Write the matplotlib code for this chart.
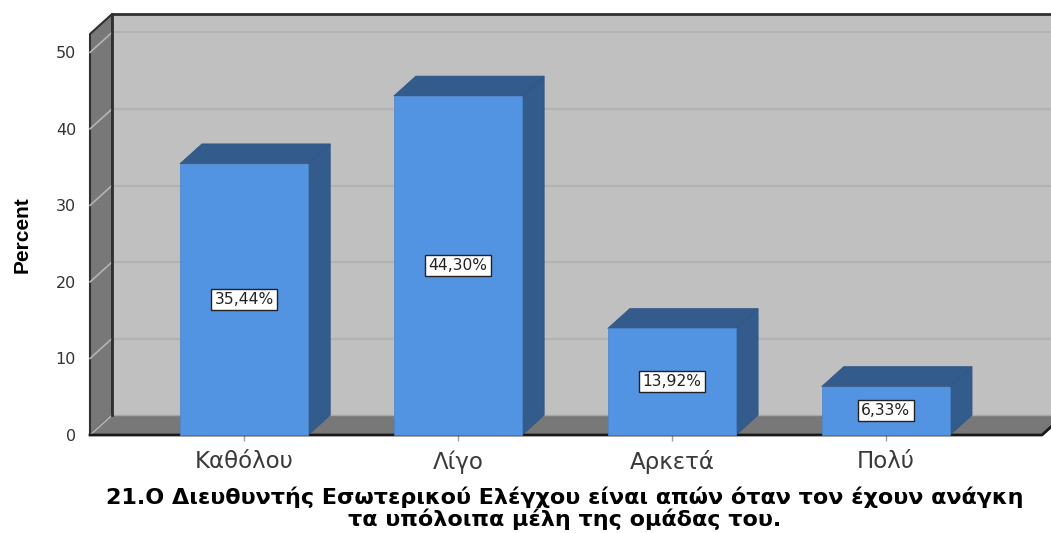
import matplotlib.pyplot as plt
from matplotlib.patches import Polygon

categories = ["Καθόλου", "Λίγο", "Αρκετά", "Πολύ"]
percents = [35.44, 44.30, 13.92, 6.33]
yticks = [0, 10, 20, 30, 40, 50]
title_lines = ["21.Ο Διευθυντής Εσωτερικού Ελέγχου είναι απών όταν τον έχουν ανάγκη",
               "τα υπόλοιπα μέλη της ομάδας του."]

# pseudo-3d look: depth offset in data units
DX, DY = 0.103, 2.6
XMIN, XMAX = -0.72, 3.73
YMAX = 52.4
BAR_W = 0.6

WALL = "#c0c0c0"
SIDE_WALL = "#787878"
FRONT = "#5394e2"
DARK = "#335b8c"

plt.rcParams['font.family'] = ['DejaVu Sans']

W, H = 1051, 533
fig = plt.figure(figsize=(W / 100, H / 100), dpi=100)
ax = fig.add_axes([90 / W, (H - 435) / H, 952 / W, 401 / H])
ax.set_xlim(XMIN, XMAX)
ax.set_ylim(0, YMAX)
for s in ax.spines.values():
    s.set_visible(False)
ax.set_facecolor("none")


def poly(pts, fc, ec="none", lw=0.0, z=1):
    p = Polygon(pts, closed=True, fc=fc, ec=ec, lw=lw, zorder=z, clip_on=False)
    ax.add_patch(p)


# back wall
poly([(XMIN + DX, DY), (XMAX + DX, DY), (XMAX + DX, YMAX + DY), (XMIN + DX, YMAX + DY)], WALL, z=1)
for t in yticks[1:]:
    ax.plot([XMIN + DX, XMAX + DX], [t + DY, t + DY], color="#b2b2b2", lw=1.5, zorder=1.5, clip_on=False)

# left wall and floor
poly([(XMIN, 0), (XMIN + DX, DY), (XMIN + DX, YMAX + DY), (XMIN, YMAX)], SIDE_WALL,
     ec="#303030", lw=1.5, z=2)
poly([(XMIN, 0), (XMAX, 0), (XMAX + DX, DY), (XMIN + DX, DY)], SIDE_WALL, z=2)
ax.plot([XMIN + DX, XMAX + DX], [DY, DY], color="#a8a8a8", lw=1.0, zorder=2.2, clip_on=False)
for t in yticks:
    ax.plot([XMIN, XMIN + DX], [t, t + DY], color="#b4b4b4", lw=1.2, zorder=2.2, clip_on=False)

# outline edges
ax.plot([XMIN + DX, XMIN + DX], [DY, YMAX + DY], color="#303030", lw=2.0, zorder=2.5, clip_on=False)
ax.plot([XMIN + DX, XMAX + DX], [YMAX + DY, YMAX + DY], color="#303030", lw=2.0, zorder=2.5, clip_on=False)
ax.plot([XMIN, XMAX, XMAX + DX], [0, 0, DY], color="#1a1a1a", lw=2.0, zorder=2.5, clip_on=False)

# bars
for i, v in enumerate(percents):
    x0, x1 = i - BAR_W / 2, i + BAR_W / 2
    poly([(x1, 0), (x1 + DX, DY), (x1 + DX, v + DY), (x1, v)], DARK, ec="#2f5483", lw=0.5, z=3)
    poly([(x0, v), (x1, v), (x1 + DX, v + DY), (x0 + DX, v + DY)], DARK, ec="#2f5483", lw=0.5, z=3)
    poly([(x0, 0), (x1, 0), (x1, v), (x0, v)], FRONT, ec="#4a85cc", lw=0.5, z=3.2)
    ax.text(i, v / 2, f"{v:.2f}".replace(".", ",") + "%", ha="center", va="center",
            fontsize=11.2, color="#222222", zorder=4,
            bbox=dict(boxstyle="square,pad=0.2", fc="white", ec="#222222", lw=1.0))

ax.set_yticks(yticks)
ax.set_yticklabels([str(t) for t in yticks], fontsize=11.5, color="#333333")
ax.tick_params(axis="y", length=0, pad=10)
ax.set_xticks(range(len(categories)))
ax.set_xticklabels(categories, fontsize=16.5, color="#3a3a3a")
ax.tick_params(axis="x", length=4, width=1, color="#a0a0a0", pad=7)

fig.text(22 / W, 1 - 235 / H, "Percent", rotation=90, ha="center", va="center",
         fontsize=15, fontweight="bold", family=["Liberation Sans Narrow", "Liberation Sans"])
fig.text(565 / W, 1 - 497 / H, title_lines[0], ha="center", va="center",
         fontsize=16, fontweight="bold", color="black")
fig.text(565 / W, 1 - 519 / H, title_lines[1], ha="center", va="center",
         fontsize=16, fontweight="bold", color="black")

fig.savefig("out.png", dpi=100)
